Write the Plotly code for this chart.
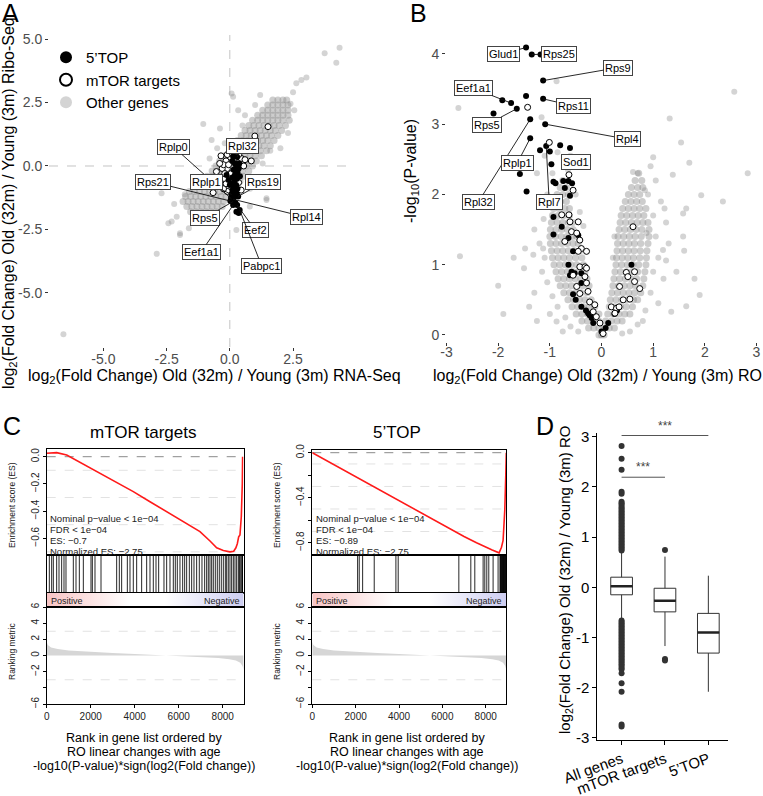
import plotly.graph_objects as go

W, H = 763, 796
FONT = "Arial, Liberation Sans, Helvetica, sans-serif"


def fx(px):
    return px / W


def fy(py):
    return 1 - py / H


GRAY_DENSE = "rgba(135,135,135,0.42)"
GRAY = "rgba(135,135,135,0.36)"

# ======================= Panel A data =======================
a_other_rows = [
    (2.6, [1.7, 1.9, 2.1, 2.25]),
    (2.4, [1.5, 1.7, 1.9, 2.1, 2.3]),
    (2.2, [1.3, 1.5, 1.7, 1.9, 2.1, 2.3]),
    (2.0, [1.1, 1.3, 1.5, 1.7, 1.9, 2.1, 2.3]),
    (1.8, [0.9, 1.1, 1.3, 1.5, 1.7, 1.9, 2.1, 2.35]),
    (1.6, [0.75, 0.95, 1.15, 1.35, 1.55, 1.75, 1.95, 2.2]),
    (1.4, [0.6, 0.8, 1.0, 1.2, 1.4, 1.6, 1.8, 2.05]),
    (1.2, [0.45, 0.65, 0.85, 1.05, 1.25, 1.45, 1.65, 1.9]),
    (1.0, [0.3, 0.5, 0.7, 0.9, 1.1, 1.3, 1.5, 1.75]),
    (0.8, [0.15, 0.35, 0.55, 0.75, 0.95, 1.15, 1.35, 1.6]),
    (0.6, [0.0, 0.2, 0.4, 0.6, 0.8, 1.0, 1.2, 1.45]),
    (0.4, [-0.2, 0.0, 0.2, 0.4, 0.6, 0.8, 1.0, 1.25]),
    (0.2, [-0.4, -0.2, 0.0, 0.2, 0.4, 0.6, 0.8, 1.05]),
    (0.0, [-0.55, -0.35, -0.15, 0.05, 0.25, 0.45, 0.65, 0.9]),
    (-0.2, [-0.7, -0.5, -0.3, -0.1, 0.1, 0.3, 0.5, 0.75]),
    (-0.4, [-0.9, -0.7, -0.5, -0.3, -0.1, 0.1, 0.3, 0.55]),
    (-0.6, [-1.1, -0.9, -0.7, -0.5, -0.3, -0.1, 0.1, 0.4]),
    (-0.8, [-1.3, -1.1, -0.9, -0.7, -0.5, -0.3, -0.1, 0.1, 0.3]),
    (-1.0, [-1.6, -1.4, -1.2, -1.0, -0.8, -0.6, -0.4, -0.2, 0.0, 0.15]),
    (-1.2, [-1.75, -1.55, -1.35, -1.15, -0.95, -0.75, -0.55, -0.35, -0.15, 0.1]),
    (-1.4, [-1.85, -1.65, -1.45, -1.25, -1.05, -0.85, -0.65, -0.45, -0.25]),
    (-1.6, [-1.7, -1.5, -1.3, -1.1, -0.9, -0.7, -0.5, -0.3]),
    (-1.8, [-1.55, -1.35, -1.15, -0.95, -0.75, -0.55]),
    (-2.0, [-1.3, -1.0, -0.7]),
]
a_other_pts = [
    (4.34, 4.66), (3.75, 4.44), (4.21, 4.07), (3.03, 3.49), (2.83, 3.39), (2.63, 3.26),
    (0.13, 2.73), (0.07, 2.86), (0.33, 2.20), (-0.39, 1.48), (-1.05, 1.65), (-0.72, 1.02),
    (-6.58, -6.63), (-2.89, -3.46), (-1.97, -2.72), (-2.30, -2.19), (-2.43, -2.26), (-1.62, -2.45),
    (-2.70, -1.07), (-2.10, -2.00), (-1.78, -1.11), (0.26, -2.52), (1.45, -1.34), (1.45, -1.27),
    (0.79, -1.60), (2.50, 2.90), (2.40, 2.45), (2.55, 2.20), (1.00, 2.40), (0.60, 2.00),
    (-0.20, 0.90), (-0.50, 0.70), (1.30, 0.10), (1.60, 0.60), (2.30, 1.30), (0.80, -0.90),
    (-1.10, -2.20), (-0.60, -2.10), (-2.20, -1.50), (0.50, 1.60), (1.20, 2.80), (-0.80, 0.30),
    (2.00, 0.70), (-1.97, -2.65),
]
a_top_pts = [
    (0.13, 0.37), (0.37, 0.10), (-0.13, -0.35), (0.00, -0.75), (0.20, 0.10), (0.25, -0.05),
    (0.15, -0.15), (0.30, -0.25), (0.20, -0.35), (0.10, -0.45), (0.28, -0.50), (0.18, -0.60),
    (0.08, -0.70), (0.25, -0.75), (0.15, -0.85), (0.30, -0.90), (0.20, -1.00), (0.10, -1.05),
    (0.28, -1.10), (0.18, -1.20), (0.05, -1.25), (0.33, -1.20), (0.13, -1.31), (0.02, -1.38),
    (0.13, -1.40), (0.07, -1.30), (0.07, -1.12), (0.22, -1.45), (0.29, -1.54), (0.13, -1.54),
    (0.39, -1.73), (0.26, -1.80), (0.35, -1.85), (0.29, 0.35), (0.10, 0.20), (0.35, -0.10),
    (0.40, -0.40), (0.22, -0.20), (-0.05, -0.55), (0.12, -0.95),
]
a_mtor_pts = [
    (0.00, 0.35), (-0.15, 0.20), (0.20, 0.30), (0.45, 0.30), (0.60, 0.25), (0.85, 0.20),
    (-0.10, -0.10), (0.05, -0.30), (-0.20, -0.50), (-0.05, -0.80), (-0.30, -0.10), (-0.25, 0.05),
    (-0.10, 0.45), (-0.35, 0.40), (0.10, 0.50), (0.35, 0.45), (-0.20, -0.30), (-0.15, -0.70),
    (-0.10, -1.00), (-0.25, -0.90), (0.35, -0.65), (0.45, -0.95), (-0.66, -1.05), (-0.53, -0.22),
    (1.51, 1.55), (0.99, 1.18), (-0.40, 0.10), (0.55, 0.00), (-0.05, 0.05),
]
a_lab_names = ["Rplp0", "Rpl32", "Rps21", "Rplp1", "Rps19", "Rps5", "Rpl14", "Eef2", "Eef1a1", "Pabpc1"]
a_lab_x = [0.07, 0.29, 0.02, 0.07, 0.33, 0.13, 0.13, 0.29, 0.13, 0.39]
a_lab_y = [-1.30, 0.35, -1.38, -1.12, -1.20, -1.40, -1.31, -1.54, -1.54, -1.73]
a_lab_ax = [-58, 5, -77, -25, 25, -28, 73, 18, -32, 22]
a_lab_ay = [-52, -11, -19, -12, -14, 16, 18, 25, 47, 56]
a_ticks = [-5.0, -2.5, 0.0, 2.5, 5.0]
a_tick_text = ["-5.0", "-2.5", "0.0", "2.5", "5.0"]

# ======================= Panel B data =======================
b_other_rows = [
    (0.0, [-0.05, 0.0, 0.05]),
    (0.1, [-0.25, -0.15, -0.05, 0.05, 0.15, 0.25]),
    (0.2, [-0.38, -0.27, -0.16, -0.05, 0.08, 0.19, 0.3, 0.4]),
    (0.3, [-0.49, -0.38, -0.27, -0.16, -0.05, 0.12, 0.23, 0.34, 0.45, 0.55]),
    (0.4, [-0.57, -0.46, -0.35, -0.24, -0.13, 0.15, 0.26, 0.37, 0.48, 0.6]),
    (0.5, [-0.65, -0.54, -0.43, -0.32, -0.2, 0.17, 0.28, 0.39, 0.5, 0.62, 0.7]),
    (0.6, [-0.73, -0.62, -0.51, -0.4, -0.28, 0.2, 0.31, 0.42, 0.53, 0.64, 0.76]),
    (0.7, [-0.8, -0.69, -0.58, -0.47, -0.36, -0.24, 0.22, 0.33, 0.44, 0.55, 0.66, 0.8]),
    (0.8, [-0.84, -0.73, -0.62, -0.51, -0.4, -0.28, 0.24, 0.35, 0.46, 0.57, 0.68, 0.82]),
    (0.9, [-0.88, -0.77, -0.66, -0.55, -0.44, -0.32, 0.26, 0.37, 0.48, 0.59, 0.7, 0.84]),
    (1.0, [-0.92, -0.81, -0.7, -0.59, -0.48, -0.35, 0.28, 0.39, 0.5, 0.61, 0.72, 0.86]),
    (1.1, [-0.95, -0.84, -0.73, -0.62, -0.5, -0.38, 0.29, 0.4, 0.51, 0.62, 0.74, 0.87]),
    (1.2, [-0.97, -0.86, -0.75, -0.64, -0.53, -0.42, 0.3, 0.41, 0.52, 0.63, 0.75, 0.88]),
    (1.3, [-0.99, -0.88, -0.77, -0.66, -0.55, -0.45, 0.31, 0.42, 0.53, 0.64, 0.76, 0.9]),
    (1.4, [-1.0, -0.89, -0.78, -0.67, -0.57, -0.48, 0.32, 0.43, 0.54, 0.65, 0.77, 0.92]),
    (1.5, [-0.99, -0.88, -0.77, -0.66, -0.55, 0.34, 0.45, 0.56, 0.67, 0.78, 0.92]),
    (1.6, [-0.97, -0.86, -0.75, -0.64, -0.56, 0.36, 0.47, 0.58, 0.69, 0.8, 0.9]),
    (1.7, [-0.95, -0.84, -0.73, -0.62, 0.38, 0.49, 0.6, 0.71, 0.82]),
    (1.8, [-0.93, -0.82, -0.71, -0.62, 0.41, 0.52, 0.63, 0.74, 0.86]),
    (1.9, [-0.9, -0.79, -0.68, 0.46, 0.57, 0.68, 0.79]),
    (2.0, [-0.86, -0.75, -0.64, 0.52, 0.63, 0.74]),
    (2.1, [-0.8, -0.68, 0.58, 0.7, 0.8]),
    (2.2, [-0.75, 0.65, 0.78]),
    (2.3, [0.72]),
]
b_other_pts = [
    (2.57, 3.46), (-2.77, 3.23), (1.32, 3.08), (1.54, 2.74), (-0.87, 3.61), (-1.16, 3.10),
    (1.00, 2.53), (1.70, 2.45), (2.83, 2.30), (0.61, 2.32), (1.93, 1.99), (2.35, 1.90),
    (1.38, 2.28), (1.64, 1.80), (1.58, 1.73), (1.22, 1.80), (0.84, 2.06), (1.58, 1.40),
    (1.19, 1.21), (-2.74, 1.12), (-1.48, 1.23), (-1.32, 1.14), (-1.13, 1.23), (-0.87, 0.19),
    (1.90, 0.57), (1.64, 0.41), (1.35, 0.33), (1.25, 1.06), (0.87, 1.45),
    (-1.20, 1.30), (-1.10, 1.10), (-1.15, 0.90), (-1.05, 0.75), (-0.95, 0.55), (-0.85, 0.40),
    (-0.70, 0.25), (-0.60, 0.12), (-0.45, 0.05), (-1.30, 1.50), (-1.12, 1.65), (-1.20, 1.85),
    (-1.05, 2.00), (-0.95, 2.30), (-0.72, 2.45), (-1.00, 0.30), (-1.30, 0.60), (-0.75, 0.05),
    (-1.50, 0.95), (-1.70, 1.10), (-1.25, 0.20), (-0.85, 2.60), (-0.60, 2.55), (-0.65, 2.35),
    (-1.10, 2.55), (-1.25, 2.30), (-0.50, 2.00), (-0.42, 1.75), (-0.35, 1.55), (-1.40, 0.40),
    (-1.90, 0.30), (-2.00, 0.70),
    (1.00, 1.70), (1.05, 1.40), (1.10, 1.10), (1.00, 0.90), (0.95, 0.60), (0.85, 0.35),
    (0.70, 0.15), (0.55, 0.05), (0.40, 0.02), (1.20, 0.80), (1.30, 1.30), (0.90, 2.00),
    (1.05, 2.20), (0.95, 2.40), (1.25, 1.60), (0.80, 0.20), (1.10, 0.45), (1.45, 0.90),
    (0.70, 2.30), (1.15, 1.90), (0.25, 1.40), (0.22, 1.10), (1.60, 1.20), (1.80, 0.80),
]
b_top_pts = [
    (-1.46, 4.09), (-1.35, 3.99), (-1.18, 3.99), (-1.13, 3.62), (-1.75, 3.30), (-1.92, 3.34),
    (-1.64, 3.22), (-1.46, 3.40), (-1.13, 3.36), (-2.09, 3.15), (-1.38, 3.07), (-1.38, 2.80),
    (-1.09, 3.00), (-1.07, 2.69), (-1.19, 2.63), (-1.00, 2.61), (-0.80, 2.70), (-0.61, 2.66),
    (-0.97, 2.43), (-1.45, 2.04), (-0.93, 2.18), (-0.89, 2.16), (-0.74, 2.19), (-0.64, 2.19),
    (-0.57, 2.16), (-0.71, 2.09), (-0.61, 1.98), (-0.93, 1.68), (-0.77, 1.54), (-0.93, 1.43),
    (-0.64, 1.38), (-0.45, 1.42), (-0.55, 1.19), (-0.64, 1.00), (-0.52, 0.88), (-0.61, 0.85),
    (-0.39, 0.74), (-0.55, 0.58), (-0.39, 0.40), (-0.26, 0.31), (-0.23, 0.28), (-0.19, 0.24),
    (-0.16, 0.17), (0.00, 0.05), (0.13, 0.17), (0.08, 0.10), (0.58, 1.00), (-1.58, 2.29),
    (-0.39, 0.88), (-0.58, 0.90), (-0.50, 0.50), (-0.30, 0.35), (0.25, 0.30), (0.30, 0.35),
]
b_mtor_pts = [
    (-1.01, 2.74), (-1.43, 3.24), (-0.63, 2.28), (-0.55, 2.06), (-0.77, 1.71), (-0.63, 1.71),
    (-0.61, 1.61), (-0.45, 1.61), (-0.58, 1.47), (-0.48, 1.45), (-0.71, 1.33), (-0.42, 1.35),
    (-0.39, 1.23), (-0.29, 1.19), (-0.45, 1.19), (-0.42, 0.97), (-0.32, 0.97), (-0.29, 0.95),
    (-0.55, 0.85), (-0.32, 0.83), (-0.29, 0.74), (-0.48, 0.69), (-0.42, 0.59), (-0.26, 0.62),
    (-0.23, 0.47), (-0.13, 0.43), (-0.16, 0.33), (-0.10, 0.26), (-0.03, 0.17), (0.03, 0.02),
    (0.19, 0.40), (0.29, 0.38), (0.26, 0.31), (0.34, 0.40), (0.35, 0.69), (0.42, 0.50),
    (0.55, 0.51), (0.48, 0.89), (0.51, 0.83), (0.64, 0.76), (0.74, 0.66), (0.61, 1.54),
    (0.64, 0.90),
]
b_lab_names = ["Glud1", "Rps25", "Rps9", "Eef1a1", "Rps5", "Rps11", "Rpl32", "Rplp1", "Rpl4", "Sod1", "Rpl7"]
b_lab_x = [-1.46, -1.35, -1.13, -1.75, -1.64, -1.13, -1.38, -1.38, -1.09, -1.01, -1.07]
b_lab_y = [4.09, 3.99, 3.62, 3.30, 3.22, 3.36, 3.07, 2.80, 3.00, 2.74, 2.69]
b_lab_ax = [-23, 27, 75, -38, -30, 30, -52, -13, 82, 27, 3]
b_lab_ay = [6, -1, -13, -15, 16, 7, 83, 25, 15, 20, 56]
b_xticks = [-3, -2, -1, 0, 1, 2, 3]
b_xtick_text = ["-3", "-2", "-1", "0", "1", "2", "3"]
b_yticks = [0, 1, 2, 3, 4]

# ======================= Panel C data =======================
rank_max = 8950
rank_ticks = [0, 2000, 4000, 6000, 8000]
mtor_es_rank = [0, 455, 909, 1664, 2424, 3182, 3937, 4695, 5454, 6209, 6967, 7423, 7726, 8028,
                8331, 8500, 8600, 8664, 8726, 8785, 8846, 8891, 8905]
mtor_es_val = [0.025, 0.03, 0.012, -0.054, -0.122, -0.188, -0.257, -0.331, -0.404, -0.478, -0.551,
               -0.62, -0.67, -0.69, -0.70, -0.695, -0.67, -0.64, -0.59, -0.575, -0.44, -0.2, 0.0]
top_es_rank = [0, 1500, 3000, 4500, 6000, 7000, 7575, 8000, 8300, 8618, 8728, 8802, 8880, 8926, 8950]
top_es_val = [0.0, -0.16, -0.32, -0.48, -0.64, -0.745, -0.80, -0.84, -0.865, -0.89, -0.84, -0.78,
              -0.51, -0.2, 0.0]
mtor_hits = [120, 226, 301, 453, 559, 680, 786, 877, 1210, 1332, 1483, 1665, 2013, 2074, 2195, 2468,
             3180, 3301, 3407, 3665, 3786, 3937, 4089, 4316, 4544, 4695, 4846, 4968, 5089, 5331,
             5453, 5604, 5755, 5846, 5937, 6058, 6180, 6271, 6362, 6483, 6589, 6695, 6816, 6937,
             7058, 7180, 7271, 7346, 7422, 7498, 7573, 7664, 7755, 7846, 7937, 8028, 8119, 8180,
             8255, 8331, 8407, 8483, 8558, 8634, 8710, 8755, 8785, 8831, 8876, 8890, 8900]
top_hits = [2091, 2166, 2322, 2857, 3857, 3963, 6760, 7313, 7497, 7880, 7958, 8050, 8142, 8341, 8571,
            8660, 8680, 8700, 8720, 8740, 8760, 8780, 8800, 8820, 8840, 8860, 8880, 8900, 8920, 8940]
metric_rank = [0, 50, 200, 500, 1000, 2000, 3000, 4000, 5000, 6000, 7000, 7800, 8300, 8600, 8800, 8900, 8950]
metric_val = [1.7, 1.3, 1.0, 0.8, 0.62, 0.42, 0.3, 0.18, 0.05, -0.06, -0.17, -0.3, -0.45, -0.62, -0.9, -1.3, -1.8]
metric_ticks = [-6, -2, 0, 2, 4, 6]
metric_tick_text = ["\u22126", "\u22122", "0", "2", "4", "6"]
metric_minor_ticks = [-4]
mtor_stats = ["Nominal p\u2212value < 1e\u221204", "FDR < 1e\u221204", "ES: \u22120.7", "Normalized ES: \u22122.75"]
top_stats = ["Nominal p\u2212value < 1e\u221204", "FDR < 1e\u221204", "ES: \u22120.89", "Normalized ES: \u22122.75"]
xtitle_lines = ["Rank in gene list ordered by", "RO linear changes with age",
                "-log10(P-value)*sign(log2(Fold change))"]

# ======================= Panel D data =======================
d_cats = ["All genes", "mTOR targets", "5\u2019TOP"]
d_pos = [1, 2, 3]
d_q1 = [-0.15, -0.49, -1.31]
d_med = [0.02, -0.27, -0.90]
d_q3 = [0.20, -0.02, -0.52]
d_lo = [-0.66, -1.17, -2.08]
d_hi = [0.72, 0.61, 0.23]
d_out_all = [2.81, 2.56, 2.34, 1.90, 1.86, 1.70, 1.67, 1.64, 1.60, 1.57, 1.54, 1.51, 1.48, 1.45,
             1.42, 1.39, 1.36, 1.33, 1.30, 1.27, 1.24, 1.21, 1.18, 1.15, 1.12, 1.09, 1.06, 1.03,
             1.00, 0.97, 0.94, 0.91, 0.88, 0.85, 0.82, 0.79, 0.76, 0.73,
             -0.66, -0.69, -0.72, -0.75, -0.78, -0.81, -0.84, -0.87, -0.90, -0.93, -0.96, -0.99,
             -1.02, -1.05, -1.08, -1.11, -1.14, -1.17, -1.20, -1.23, -1.26, -1.29, -1.32, -1.35,
             -1.38, -1.41, -1.44, -1.47, -1.50, -1.53, -1.56, -1.60, -1.63, -1.71, -1.91, -2.08,
             -2.73, -2.77]
d_out_mtor = [0.74, -1.43, -1.46]
d_sig = [(1, 3, 3.02, "***"), (1, 2, 2.19, "***")]
d_yticks = [-3, -2, -1, 0, 1, 2, 3]
d_ytick_text = ["-3", "-2", "-1", "0", "1", "2", "3"]


def flat_rows(rows):
    xs, ys = [], []
    for y, row in rows:
        for x in row:
            xs.append(x)
            ys.append(y)
    return xs, ys


fig = go.Figure()
lay = {}
shapes = []
annotations = []


def txt(px, py, text, size, color="black", xanchor="center", yanchor="middle", angle=0):
    annotations.append(dict(x=fx(px), y=fy(py), xref="paper", yref="paper", text=text,
                            showarrow=False, xanchor=xanchor, yanchor=yanchor, textangle=angle,
                            font=dict(family=FONT, size=size, color=color)))


# ----------------------- Panel A -----------------------
ax_style = dict(showgrid=False, zeroline=False, showline=False, ticks="outside", ticklen=3,
                tickcolor="#333333", automargin=False,
                tickfont=dict(family=FONT, size=14, color="#4d4d4d"))
lay["xaxis"] = dict(domain=[fx(49), fx(355)], range=[-7.15, 4.95], anchor="y",
                    tickvals=a_ticks, ticktext=a_tick_text, ticklabelstandoff=-4, **ax_style)
lay["yaxis"] = dict(domain=[fy(347), fy(35)], range=[-7.13, 5.16], anchor="x",
                    tickvals=a_ticks, ticktext=a_tick_text, **ax_style)
shapes.append(dict(type="line", xref="x", yref="y domain", x0=0, x1=0, y0=0, y1=1, layer="below",
                   line=dict(color="#c4c4c4", width=1, dash="dash")))
shapes.append(dict(type="line", xref="x domain", yref="y", x0=0, x1=1, y0=0, y1=0, layer="below",
                   line=dict(color="#c4c4c4", width=1, dash="dash")))

gx, gy = flat_rows(a_other_rows)
fig.add_trace(go.Scatter(x=gx, y=gy, mode="markers", showlegend=False,
                         marker=dict(size=7, color=GRAY_DENSE, line=dict(width=0)), xaxis="x", yaxis="y"))
fig.add_trace(go.Scatter(x=[p[0] for p in a_other_pts], y=[p[1] for p in a_other_pts], mode="markers",
                         name="Other genes", legendrank=3,
                         marker=dict(size=6, color=GRAY, line=dict(width=0)), xaxis="x", yaxis="y"))
fig.add_trace(go.Scatter(x=[p[0] for p in a_mtor_pts], y=[p[1] for p in a_mtor_pts], mode="markers",
                         name="mTOR targets", legendrank=2,
                         marker=dict(size=6, color="white", line=dict(width=1, color="black")),
                         xaxis="x", yaxis="y"))
fig.add_trace(go.Scatter(x=[p[0] for p in a_top_pts], y=[p[1] for p in a_top_pts], mode="markers",
                         name="5\u2019TOP", legendrank=1,
                         marker=dict(size=6, color="black", line=dict(width=0)), xaxis="x", yaxis="y"))


def add_labels(names, xs, ys, axs, ays, xr, yr):
    for n, x, y, a, b in zip(names, xs, ys, axs, ays):
        annotations.append(dict(x=x, y=y, xref=xr, yref=yr, text=n, showarrow=True, arrowhead=0,
                                arrowwidth=0.9, arrowcolor="#111111", ax=a, ay=b, standoff=0,
                                font=dict(family=FONT, size=11, color="black"), bgcolor="white",
                                bordercolor="#444444", borderwidth=1, borderpad=1))


add_labels(a_lab_names, a_lab_x, a_lab_y, a_lab_ax, a_lab_ay, "x", "y")
txt(10, 13, "A", 25)
txt(214, 376, "log<sub>2</sub>(Fold Change) Old (32m) / Young (3m) RNA-Seq", 16)
txt(9, 203, "log<sub>2</sub>(Fold Change) Old (32m) / Young (3m) Ribo-Seq", 16, angle=-90)

# ----------------------- Panel B -----------------------
lay["xaxis2"] = dict(domain=[fx(446), fx(757)], range=[-3.01, 3.01], anchor="y2",
                     tickvals=b_xticks, ticktext=b_xtick_text, ticklabelstandoff=-6, **ax_style)
lay["yaxis2"] = dict(domain=[fy(342), fy(30)], range=[-0.1, 4.34], anchor="x2",
                     tickvals=b_yticks, **ax_style)
gx, gy = flat_rows(b_other_rows)
fig.add_trace(go.Scatter(x=gx, y=gy, mode="markers", showlegend=False,
                         marker=dict(size=7, color=GRAY_DENSE, line=dict(width=0)), xaxis="x2", yaxis="y2"))
fig.add_trace(go.Scatter(x=[p[0] for p in b_other_pts], y=[p[1] for p in b_other_pts], mode="markers",
                         showlegend=False, marker=dict(size=6, color=GRAY, line=dict(width=0)),
                         xaxis="x2", yaxis="y2"))
fig.add_trace(go.Scatter(x=[p[0] for p in b_top_pts], y=[p[1] for p in b_top_pts], mode="markers",
                         showlegend=False, marker=dict(size=6, color="black", line=dict(width=0)),
                         xaxis="x2", yaxis="y2"))
fig.add_trace(go.Scatter(x=[p[0] for p in b_mtor_pts], y=[p[1] for p in b_mtor_pts], mode="markers",
                         showlegend=False,
                         marker=dict(size=6, color="white", line=dict(width=1, color="black")),
                         xaxis="x2", yaxis="y2"))
add_labels(b_lab_names, b_lab_x, b_lab_y, b_lab_ax, b_lab_ay, "x2", "y2")
txt(418, 13, "B", 25)
txt(597, 376, "log<sub>2</sub>(Fold Change) Old (32m) / Young (3m) RO", 16)
txt(412, 171, "-log<sub>10</sub>(P-value)", 16, angle=-90)

# ----------------------- Panel C -----------------------
box_line = dict(showgrid=False, zeroline=False, showline=True, mirror=True, linecolor="black",
                linewidth=1, showticklabels=False, ticks="", automargin=False)


def add_gsea(k, px0, px1, es_top, es_range, es_tv, es_tt, es_minor, es_r, es_v, hits, title,
             title_px, stats, ytitle_px, xt_px):
    ids = [k, k + 1, k + 2, k + 3]
    rows = [(es_top, 555), (555, 593), (593, 607), (607, 704)]
    for i, (t, b) in zip(ids, rows):
        lay[f"xaxis{i}"] = dict(domain=[fx(px0), fx(px1)], range=[0, rank_max], anchor=f"y{i}", **box_line)
        lay[f"yaxis{i}"] = dict(domain=[fy(b), fy(t)], anchor=f"x{i}", range=[0, 1], **box_line)
    tick_font = dict(family=FONT, size=10, color="#222222")
    minor_es = dict(tickvals=es_minor, ticks="outside", ticklen=3, tickcolor="black") if es_minor else None
    lay[f"yaxis{ids[0]}"].update(range=es_range, tickvals=es_tv, ticktext=es_tt, showticklabels=True,
                                 ticks="outside", ticklen=3, tickcolor="black", tickangle=-90,
                                 tickfont=tick_font)
    if minor_es:
        lay[f"yaxis{ids[0]}"]["minor"] = minor_es
    lay[f"yaxis{ids[3]}"].update(range=[-6, 6], tickvals=metric_ticks, ticktext=metric_tick_text,
                                 showticklabels=True, ticks="outside", ticklen=3, tickcolor="black",
                                 tickangle=-90, tickfont=tick_font,
                                 minor=dict(tickvals=metric_minor_ticks, ticks="outside", ticklen=3,
                                            tickcolor="black"))
    lay[f"xaxis{ids[3]}"].update(tickvals=rank_ticks, showticklabels=True, ticks="outside",
                                 ticklen=3, tickcolor="black", tickfont=tick_font)
    for v, col in [(0.0, "#8a8a8a"), (-0.1, "#e2e2e2"), (-0.3, "#e2e2e2"), (-0.5, "#e2e2e2"),
                   (-0.7, "#e2e2e2")]:
        if es_range[0] < v <= es_range[1]:
            shapes.append(dict(type="line", xref=f"x{ids[0]} domain", yref=f"y{ids[0]}", x0=0, x1=1,
                               y0=v, y1=v, layer="below", line=dict(color=col, width=1, dash="dash")))
    for v in [3, -3]:
        shapes.append(dict(type="line", xref=f"x{ids[3]} domain", yref=f"y{ids[3]}", x0=0, x1=1,
                           y0=v, y1=v, layer="below", line=dict(color="#e2e2e2", width=1, dash="dash")))
    fig.add_trace(go.Scatter(x=es_r, y=es_v, mode="lines", showlegend=False,
                             line=dict(color="#ff1a1a", width=1.6), xaxis=f"x{ids[0]}", yaxis=f"y{ids[0]}"))
    bx, by = [], []
    for h in hits:
        bx += [h, h, None]
        by += [0, 1, None]
    fig.add_trace(go.Scatter(x=bx, y=by, mode="lines", showlegend=False,
                             line=dict(color="rgba(0,0,0,0.85)", width=1), xaxis=f"x{ids[1]}", yaxis=f"y{ids[1]}"))
    fig.add_trace(go.Scatter(x=[0, rank_max, rank_max, 0, 0], y=[0, 0, 1, 1, 0], mode="lines",
                             fill="toself", showlegend=False, line=dict(width=0),
                             fillgradient=dict(type="horizontal",
                                               colorscale=[[0, "#f8c4c4"], [0.42, "#ffffff"],
                                                           [0.6, "#ffffff"], [1, "#cdcdf1"]]),
                             xaxis=f"x{ids[2]}", yaxis=f"y{ids[2]}"))
    fig.add_trace(go.Scatter(x=metric_rank, y=metric_val, mode="lines", fill="tozeroy",
                             fillcolor="#d6d6d6", line=dict(width=0, color="#d6d6d6"), showlegend=False,
                             xaxis=f"x{ids[3]}", yaxis=f"y{ids[3]}"))
    txt(px0 + 2, 600.5, "Positive", 9, color="#222222", xanchor="left")
    txt(px1 - 2, 600.5, "Negative", 9, color="#222222", xanchor="right")
    for s, py in zip(stats, [518, 529, 540, 551]):
        txt(px0 + 1.5, py, s, 9.5, color="#222222", xanchor="left")
    txt(title_px, 432, title, 17)
    txt(ytitle_px, 505, "Enrichment score (ES)", 8.5, color="#222222", angle=-90)
    txt(ytitle_px, 652, "Ranking metric", 8.5, color="#222222", angle=-90)
    for line, py in zip(xtitle_lines, [737.5, 751.5, 765.5]):
        txt(xt_px, py, line, 12.5)


add_gsea(3, 46.7, 243.6, 449, [-0.723, 0.0566], [0.0, -0.2, -0.4, -0.6],
         ["0.0", "\u22120.2", "\u22120.4", "\u22120.6"], None, mtor_es_rank, mtor_es_val, mtor_hits,
         "mTOR targets", 143, mtor_stats, 12, 144)
add_gsea(7, 312.3, 506.3, 450, [-0.909, 0.024], [0.0, -0.4, -0.8],
         ["0.0", "\u22120.4", "\u22120.8"], [-0.2, -0.6], top_es_rank, top_es_val, top_hits,
         "5\u2019TOP", 397, top_stats, 277, 407)
txt(12, 426, "C", 25)

# ----------------------- Panel D -----------------------
lay["xaxis11"] = dict(domain=[fx(597.3), fx(728.3)], range=[0.44, 3.46], anchor="y11", automargin=False,
                      showgrid=False, zeroline=False, showline=True, linecolor="black", linewidth=1,
                      ticks="outside", ticklen=4, tickcolor="black", tickvals=d_pos, ticktext=d_cats,
                      tickangle=-20, tickfont=dict(family=FONT, size=15, color="black"))
lay["yaxis11"] = dict(domain=[fy(740), fy(433)], range=[-3.04, 3.07], anchor="x11", automargin=False,
                      showgrid=False, zeroline=False, showline=True, linecolor="black", linewidth=1,
                      ticks="outside", ticklen=4, tickcolor="black", tickvals=d_yticks,
                      ticktext=d_ytick_text, tickfont=dict(family=FONT, size=15, color="black"))
fig.add_trace(go.Box(x=d_pos, q1=d_q1, median=d_med, q3=d_q3, lowerfence=d_lo, upperfence=d_hi,
                     width=0.5, whiskerwidth=0, boxpoints=False, fillcolor="white",
                     line=dict(color="#333333", width=1), showlegend=False, xaxis="x11", yaxis="y11"))
for c, m in zip(d_pos, d_med):
    fig.add_trace(go.Scatter(x=[c - 0.25, c + 0.25], y=[m, m], mode="lines", showlegend=False,
                             line=dict(color="#222222", width=2.6), xaxis="x11", yaxis="y11"))
fig.add_trace(go.Scatter(x=[d_pos[0]] * len(d_out_all) + [d_pos[1]] * len(d_out_mtor),
                         y=d_out_all + d_out_mtor, mode="markers", showlegend=False,
                         marker=dict(size=6, color="#333333"), xaxis="x11", yaxis="y11"))
for a, b, y, lab in d_sig:
    fig.add_trace(go.Scatter(x=[a, b], y=[y, y], mode="lines", showlegend=False,
                             line=dict(color="#555555", width=1), xaxis="x11", yaxis="y11"))
    annotations.append(dict(x=(a + b) / 2, y=y, xref="x11", yref="y11", text=lab, showarrow=False,
                            yanchor="bottom", yshift=1, font=dict(family=FONT, size=12, color="#444444")))
txt(545, 426, "D", 25)
txt(565, 580, "log<sub>2</sub>(Fold Change) Old (32m) / Young (3m) RO", 15, angle=-90)

fig.update_layout(
    width=W, height=H, autosize=False,
    margin=dict(l=0, r=0, t=0, b=0, pad=0, autoexpand=False),
    paper_bgcolor="white", plot_bgcolor="white", hovermode=False,
    font=dict(family=FONT, color="black"),
    showlegend=True,
    legend=dict(x=fx(46), y=fy(41), xanchor="left", yanchor="top", bgcolor="rgba(0,0,0,0)",
                font=dict(family=FONT, size=15, color="black"), itemsizing="constant",
                tracegroupgap=0),
    shapes=shapes, annotations=annotations,
    **lay,
)
fig.write_html("out.html", config={"displayModeBar": False},
               post_script="document.body.style.margin='0px';")
